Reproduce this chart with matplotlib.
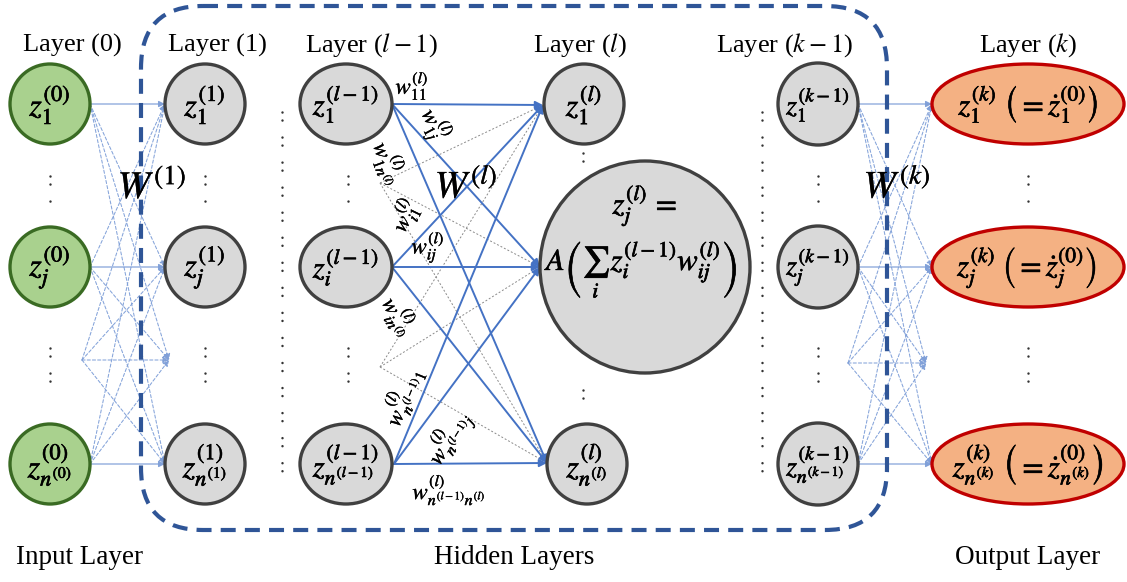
#!/usr/bin/env python3
"""
Fully connected network diagram: input layer, hidden layers, output layer
"""

import matplotlib
matplotlib.use("Agg")
import matplotlib.pyplot as plt
import matplotlib.patheffects as pe
from matplotlib.patches import Ellipse, FancyBboxPatch

plt.rcParams['font.family'] = ['Liberation Serif', 'DejaVu Serif']
plt.rcParams['mathtext.fontset'] = 'stix'

# ---- text content ----
layer_titles = ['Layer (0)', 'Layer (1)', r'Layer ($l-1$)', r'Layer ($l$)',
                r'Layer ($k-1$)', r'Layer ($k$)']
group_titles = ['Input Layer', 'Hidden Layers', 'Output Layer']
weight_mats = [r'$W^{(1)}$', r'$W^{(l)}$', r'$W^{(k)}$']

input_nodes = [r'$z_1^{(0)}$', r'$z_j^{(0)}$', r'$z_{n^{(0)}}^{(0)}$']
layer1_nodes = [r'$z_1^{(1)}$', r'$z_j^{(1)}$', r'$z_{n^{(1)}}^{(1)}$']
prev_nodes = [r'$z_1^{(l-1)}$', r'$z_i^{(l-1)}$', r'$z_{n^{(l-1)}}^{(l-1)}$']
cur_nodes = [r'$z_1^{(l)}$', r'$z_{n^{(l)}}^{(l)}$']
big_node = [r'$z_j^{(l)}\,=$', r'$A\left(\sum_i\, z_i^{(l-1)}w_{ij}^{(l)}\right)$']
km1_nodes = [r'$z_1^{(k-1)}$', r'$z_j^{(k-1)}$', r'$z_{n^{(k-1)}}^{(k-1)}$']
output_nodes = [r'$z_1^{(k)}\ \left(=\dot{z}_1^{(0)}\right)$',
                r'$z_j^{(k)}\ \left(=\dot{z}_j^{(0)}\right)$',
                r'$z_{n^{(k)}}^{(k)}\ \left(=\dot{z}_{n^{(k)}}^{(0)}\right)$']
weight_labels = [r'$w_{11}^{(l)}$', r'$w_{1j}^{(l)}$', r'$w_{1n^{(l)}}^{(l)}$',
                 r'$w_{i1}^{(l)}$', r'$w_{ij}^{(l)}$', r'$w_{in^{(l)}}^{(l)}$',
                 r'$w_{n^{(l-1)}1}^{(l)}$', r'$w_{n^{(l-1)}j}^{(l)}$',
                 r'$w_{n^{(l-1)}n^{(l)}}^{(l)}$']

# ---- layout (pixels) ----
W, H = 1127, 582
rows = [104, 267, 464]
col_x = [50, 205, 346, 584, 818, 1028]
big_xy = (645, 267)

GREEN, GREEN_E = '#a9d18e', '#3a6b23'
GRAY, GRAY_E = '#d9d9d9', '#404040'
ORANGE, RED_E = '#f4b183', '#c00000'
BLUE = '#4472c4'
LIGHT = '#7f9fd8'
BOX = '#2f5597'

fig = plt.figure(figsize=(W / 100, H / 100), dpi=100)
ax = fig.add_axes([0, 0, 1, 1])
ax.set_xlim(0, W)
ax.set_ylim(H, 0)
ax.axis('off')


def math_text(x, y, s, fs, rot=0, stroke=0.45):
    # thin stroke to mimic the heavier Cambria Math look of the original
    ax.text(x, y, s, ha='center', va='center', fontsize=fs, rotation=rot,
            zorder=7,
            path_effects=[pe.withStroke(linewidth=stroke, foreground='black')])


def node(x, y, w, h, face, edge, label, fs=23):
    ax.add_patch(Ellipse((x, y), w, h, facecolor=face, edgecolor=edge,
                         lw=2.4, zorder=5))
    math_text(x, y, label, fs)


def arrow(p0, p1, color=BLUE, lw=1.2, ls='-', alpha=1.0, head=9):
    ax.annotate('', xy=p1, xytext=p0, zorder=3,
                arrowprops=dict(arrowstyle='-|>', color=color, lw=lw,
                                linestyle=ls, alpha=alpha,
                                mutation_scale=head, shrinkA=0, shrinkB=0))


def vdots(x, y0, y1, lw=1.8):
    ax.plot([x, x], [y0, y1], color='#333333', lw=lw,
            ls=(0, (0.01, 3.2, 0.01, 6.8)), dash_capstyle='round', zorder=2)


# ---- layer titles / group titles ----
title_x = [72, 217, 371, 580, 785, 1028]
for x, t in zip(title_x, layer_titles):
    ax.text(x, 45, t, ha='center', va='center', fontsize=19, zorder=7)
for x, t in zip([79, 514, 1028], group_titles):
    ax.text(x, 557, t, ha='center', va='center', fontsize=19.5)

# ---- outer connections (input -> layer 1, layer k-1 -> output) ----
def outer_block(xs, xt, dot_y, src_dx, tgt_dx):
    srcs = [(xs, y) for y in rows] + [(xs - src_dx, dot_y)]
    tgts = [(xt, y) for y in rows] + [(xt + tgt_dx, dot_y)]
    for i, s in enumerate(srcs):
        for j, t in enumerate(tgts):
            solid = (i == j and i < 3)
            arrow(s, t, color=LIGHT, lw=0.9 if solid else 0.75,
                  ls='-' if solid else (0, (3, 2)), alpha=0.95, head=9)

outer_block(90, 165, 360, 8, 4)
outer_block(858, 932, 363, 10, -6)

# ---- central connections l-1 -> l ----
c_src = [(392, rows[0]), (392, rows[1]), (394, rows[2])]
c_tgt = [(543, 105), (540, big_xy[1]), (547, 463)]
for s in c_src:
    for t in c_tgt:
        arrow(s, t, color=BLUE, lw=1.4, head=11)
for s in [(380, 183), (380, 367)]:
    for t in c_tgt:
        ax.plot([s[0], t[0]], [s[1], t[1]], color='#8a8a8a', lw=0.7,
                ls=(0, (2, 2)), zorder=2)

# ---- dashed hidden box ----
ax.add_patch(FancyBboxPatch((141, 6), 746, 524,
                            boxstyle='round,pad=0,rounding_size=62',
                            facecolor='none', edgecolor=BOX, lw=3.0,
                            ls=(0, (3.6, 2.2)), zorder=4))

# ---- long dotted separators ----
vdots(282, 112, 478)
vdots(762, 112, 478)

# ---- nodes ----
for y, lab in zip(rows, input_nodes):
    node(col_x[0], y, 80, 80, GREEN, GREEN_E, lab)
for y, lab in zip(rows, layer1_nodes):
    node(col_x[1], y, 80, 80, GRAY, GRAY_E, lab)
for y, lab in zip(rows, prev_nodes):
    node(col_x[2], y, 92, 80, GRAY, GRAY_E, lab, fs=22)
node(col_x[3], rows[0], 80, 80, GRAY, GRAY_E, cur_nodes[0])
node(col_x[3] + 3, rows[2], 80, 80, GRAY, GRAY_E, cur_nodes[1])
node(big_xy[0], big_xy[1], 210, 212, GRAY, GRAY_E, '')
math_text(big_xy[0], 205, big_node[0], 22)
math_text(big_xy[0] - 2, 270, big_node[1], 22)
for y, lab in zip(rows, km1_nodes):
    node(col_x[4], y, 80, 82, GRAY, GRAY_E, lab, fs=20)
for y, lab in zip(rows, output_nodes):
    node(col_x[5], y, 192, 80, ORANGE, RED_E, lab, fs=22)

# ---- short vertical ellipses inside columns ----
for x in [50, 205, 348, 818, 1028]:
    vdots(x, 176, 206)
    vdots(x, 348, 384)
vdots(583, 153, 166)
vdots(583, 390, 403)

# ---- weight matrix labels ----
for (x, y), t in zip([(152, 188), (466, 188), (897, 188)], weight_mats):
    math_text(x, y, t, 28, stroke=0.2)

# ---- individual weight labels ----
w_pos = [(412, 85, 0), (435, 125, -62), (390, 163, -70),
         (404, 215, 64), (428, 247, 0), (400, 316, -62),
         (401, 396, 68), (448, 437, 58), (449, 489, 0)]
for (x, y, rot), t in zip(w_pos, weight_labels):
    math_text(x, y, t, 16.5, rot, stroke=0.25)

plt.savefig('out.png', dpi=100)
